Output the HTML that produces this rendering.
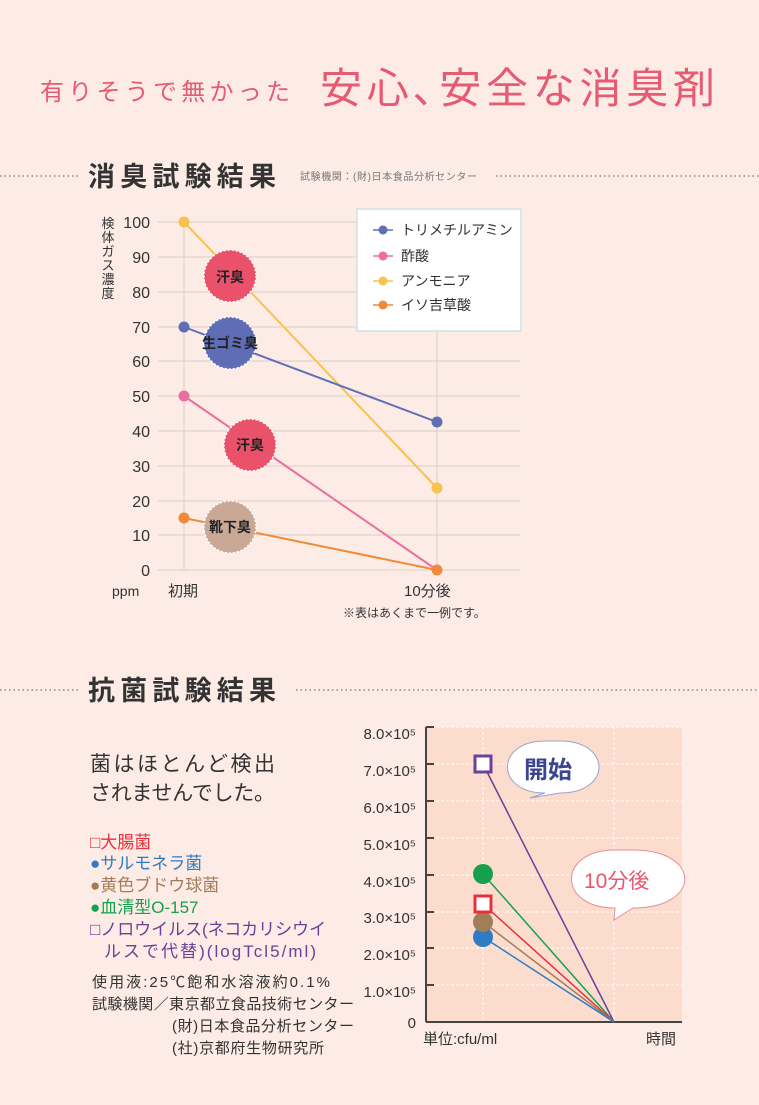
<!DOCTYPE html><html><head><meta charset="utf-8"><style>
body{margin:0;width:759px;height:1100px;background:#fdebe5;overflow:hidden;font-family:"Liberation Sans","Noto Sans CJK JP",sans-serif;}
svg text{font-family:"Liberation Sans","Noto Sans CJK JP",sans-serif;}
</style></head><body>
<svg width="759" height="1100" xmlns="http://www.w3.org/2000/svg">
<rect width="759" height="1100" fill="#fdebe5"/>
<text x="40" y="100" font-size="24" fill="#e65a72" textLength="250" lengthAdjust="spacing">有りそうで無かった</text>
<text x="320" y="103" font-size="42" fill="#e65a72" textLength="395" lengthAdjust="spacing">安心､安全な消臭剤</text>
<line x1="0" y1="176" x2="78" y2="176" stroke="#555" stroke-dasharray="1.5 3"/>
<line x1="496" y1="176" x2="759" y2="176" stroke="#555" stroke-dasharray="1.5 3"/>
<text x="88" y="186" font-size="27" fill="#333" font-weight="bold" textLength="188" lengthAdjust="spacing">消臭試験結果</text>
<text x="300" y="180" font-size="10" fill="#777" textLength="177" lengthAdjust="spacing">試験機関：(財)日本食品分析センター</text>
<g stroke="#d7cfcc" stroke-width="1">
<line x1="158" y1="222" x2="520" y2="222"/><line x1="158" y1="257" x2="520" y2="257"/><line x1="158" y1="292" x2="520" y2="292"/><line x1="158" y1="327" x2="520" y2="327"/><line x1="158" y1="361" x2="520" y2="361"/><line x1="158" y1="396" x2="520" y2="396"/><line x1="158" y1="431" x2="520" y2="431"/><line x1="158" y1="466" x2="520" y2="466"/><line x1="158" y1="501" x2="520" y2="501"/><line x1="158" y1="535" x2="520" y2="535"/><line x1="158" y1="570" x2="520" y2="570"/>
<line x1="184" y1="222" x2="184" y2="570"/><line x1="437" y1="222" x2="437" y2="570"/>
</g>
<g font-size="16" fill="#333" text-anchor="end">
<text x="150" y="228">100</text><text x="150" y="263">90</text><text x="150" y="298">80</text><text x="150" y="333">70</text><text x="150" y="367">60</text><text x="150" y="402">50</text><text x="150" y="437">40</text><text x="150" y="472">30</text><text x="150" y="507">20</text><text x="150" y="541">10</text><text x="150" y="576">0</text>
</g>
<g font-size="13" fill="#333" text-anchor="middle"><text x="108" y="228">検</text><text x="108" y="242">体</text><text x="108" y="256">ガ</text><text x="108" y="270">ス</text><text x="108" y="284">濃</text><text x="108" y="298">度</text></g>
<text x="112" y="596" font-size="14" fill="#333">ppm</text>
<text x="168" y="596" font-size="15" fill="#333">初期</text>
<text x="404" y="596" font-size="15" fill="#333">10分後</text>
<text x="343" y="617" font-size="12" fill="#333">※表はあくまで一例です。</text>
<g stroke-width="2">
<line x1="184" y1="222" x2="437" y2="488" stroke="#f9c14f"/>
<line x1="184" y1="327" x2="437" y2="422" stroke="#5f6fb5"/>
<line x1="184" y1="396" x2="437" y2="570" stroke="#ea6fa0"/>
<line x1="184" y1="518" x2="437" y2="570" stroke="#f08a3a"/>
</g>
<circle cx="184" cy="222" r="5.5" fill="#f9c14f"/><circle cx="437" cy="488" r="5.5" fill="#f9c14f"/>
<circle cx="184" cy="327" r="5.5" fill="#5f6fb5"/><circle cx="437" cy="422" r="5.5" fill="#5f6fb5"/>
<circle cx="184" cy="396" r="5.5" fill="#ea6fa0"/>
<circle cx="184" cy="518" r="5.5" fill="#f08a3a"/><circle cx="437" cy="570" r="5.5" fill="#f08a3a"/>
<g stroke="#fff" stroke-width="1.5" stroke-dasharray="2 2">
<circle cx="230" cy="276" r="26" fill="#e9526a"/>
<circle cx="230" cy="343" r="26" fill="#5e6db6"/>
<circle cx="250" cy="445" r="26" fill="#e9526a"/>
<circle cx="230" cy="527" r="26" fill="#c9a896"/>
</g>
<g font-size="14" font-weight="bold" text-anchor="middle" fill="#222">
<text x="230" y="282">汗臭</text><text x="230" y="348">生ゴミ臭</text><text x="250" y="450">汗臭</text><text x="230" y="532">靴下臭</text>
</g>
<rect x="357" y="209" width="164" height="122" fill="#fff" stroke="#cde3e6" stroke-width="1.5"/>
<g stroke-width="1.5">
<line x1="373" y1="230" x2="393" y2="230" stroke="#5f6fb5"/><circle cx="383" cy="230" r="4.5" fill="#5f6fb5"/>
<line x1="373" y1="256" x2="393" y2="256" stroke="#ea6fa0"/><circle cx="383" cy="256" r="4.5" fill="#ea6fa0"/>
<line x1="373" y1="281" x2="393" y2="281" stroke="#f9c14f"/><circle cx="383" cy="281" r="4.5" fill="#f9c14f"/>
<line x1="373" y1="305" x2="393" y2="305" stroke="#f08a3a"/><circle cx="383" cy="305" r="4.5" fill="#f08a3a"/>
</g>
<g font-size="14" fill="#333"><text x="401" y="235">トリメチルアミン</text><text x="401" y="261">酢酸</text><text x="401" y="286">アンモニア</text><text x="401" y="310">イソ吉草酸</text></g>

<line x1="0" y1="690" x2="78" y2="690" stroke="#555" stroke-dasharray="1.5 3"/>
<line x1="296" y1="690" x2="759" y2="690" stroke="#555" stroke-dasharray="1.5 3"/>
<text x="88" y="700" font-size="27" fill="#333" font-weight="bold" textLength="188" lengthAdjust="spacing">抗菌試験結果</text>
<text x="90" y="771" font-size="21" fill="#333" textLength="185" lengthAdjust="spacing">菌はほとんど検出</text>
<text x="90" y="800" font-size="21" fill="#333" textLength="185" lengthAdjust="spacing">されませんでした。</text>
<g font-size="17">
<text x="90" y="848" fill="#e8303c">□大腸菌</text>
<text x="90" y="869" fill="#2f7bc4">●サルモネラ菌</text>
<text x="90" y="891" fill="#a37c58">●黄色ブドウ球菌</text>
<text x="90" y="913" fill="#15a050">●血清型O-157</text>
<text x="90" y="935" fill="#6b3f9b" textLength="236" lengthAdjust="spacing">□ノロウイルス(ネコカリシウイ</text>
<text x="104" y="957" fill="#6b3f9b" textLength="212" lengthAdjust="spacing">ルスで代替)(logTcl5/ml)</text>
</g>
<g font-size="15" fill="#333">
<text x="92" y="987" textLength="238" lengthAdjust="spacing">使用液:25℃飽和水溶液約0.1%</text>
<text x="92" y="1009" textLength="262" lengthAdjust="spacing">試験機関／東京都立食品技術センター</text>
<text x="172" y="1031" textLength="182" lengthAdjust="spacing">(財)日本食品分析センター</text>
<text x="172" y="1053" textLength="152" lengthAdjust="spacing">(社)京都府生物研究所</text>
</g>
<rect x="426" y="727" width="256" height="295" fill="#fcdccd"/>
<g stroke="#fff" stroke-width="1" stroke-dasharray="3 2">
<line x1="426" y1="764" x2="682" y2="764"/><line x1="426" y1="801" x2="682" y2="801"/><line x1="426" y1="838" x2="682" y2="838"/><line x1="426" y1="875" x2="682" y2="875"/><line x1="426" y1="912" x2="682" y2="912"/><line x1="426" y1="948" x2="682" y2="948"/><line x1="426" y1="985" x2="682" y2="985"/><line x1="426" y1="727" x2="682" y2="727"/>
<line x1="483" y1="727" x2="483" y2="1022"/><line x1="614" y1="727" x2="614" y2="1022"/>
</g>
<g stroke="#444" stroke-width="2"><line x1="426" y1="727" x2="426" y2="1022"/><line x1="426" y1="1022" x2="682" y2="1022"/>
<line x1="426" y1="727" x2="434" y2="727"/><line x1="426" y1="764" x2="434" y2="764"/><line x1="426" y1="801" x2="434" y2="801"/><line x1="426" y1="838" x2="434" y2="838"/><line x1="426" y1="875" x2="434" y2="875"/><line x1="426" y1="912" x2="434" y2="912"/><line x1="426" y1="948" x2="434" y2="948"/><line x1="426" y1="985" x2="434" y2="985"/></g>
<g font-size="15" fill="#333" text-anchor="end">
<text x="416" y="739">8.0×10⁵</text><text x="416" y="776">7.0×10⁵</text><text x="416" y="813">6.0×10⁵</text><text x="416" y="850">5.0×10⁵</text><text x="416" y="887">4.0×10⁵</text><text x="416" y="923">3.0×10⁵</text><text x="416" y="960">2.0×10⁵</text><text x="416" y="997">1.0×10⁵</text><text x="416" y="1028">0</text>
</g>
<text x="423" y="1044" font-size="15" fill="#333">単位:cfu/ml</text>
<text x="646" y="1044" font-size="15" fill="#333">時間</text>
<g stroke-width="1.5">
<line x1="483" y1="764" x2="614" y2="1022" stroke="#6b3f9b"/>
<line x1="483" y1="874" x2="614" y2="1022" stroke="#15a050"/>
<line x1="483" y1="904" x2="614" y2="1022" stroke="#e8303c"/>
<line x1="483" y1="922" x2="614" y2="1022" stroke="#a37c58"/>
<line x1="483" y1="937" x2="614" y2="1022" stroke="#2f7bc4"/>
</g>
<circle cx="483" cy="937" r="10" fill="#2f7bc4"/>
<circle cx="483" cy="922" r="10" fill="#a37c58"/>
<rect x="475" y="896" width="16" height="16" fill="#fff" stroke="#e8303c" stroke-width="3"/>
<circle cx="483" cy="874" r="10" fill="#15a050"/>
<rect x="475" y="756" width="16" height="16" fill="#fff" stroke="#6b3f9b" stroke-width="3"/>
<path d="M545,741 C495,741 495,793 545,793 L530,798 L560,793 C612,793 612,741 560,741 Z" fill="#fff" stroke="#9aa3cc"/>
<text x="524" y="778" font-size="24" font-weight="bold" fill="#3a4590">開始</text>
<path d="M615,850 C557,850 557,908 615,908 L614,920 L633,908 C702,908 702,850 633,850 Z" fill="#fff" stroke="#e88b97"/>
<text x="584" y="888" font-size="21" fill="#e8566e">10分後</text>
</svg>
</body></html>
